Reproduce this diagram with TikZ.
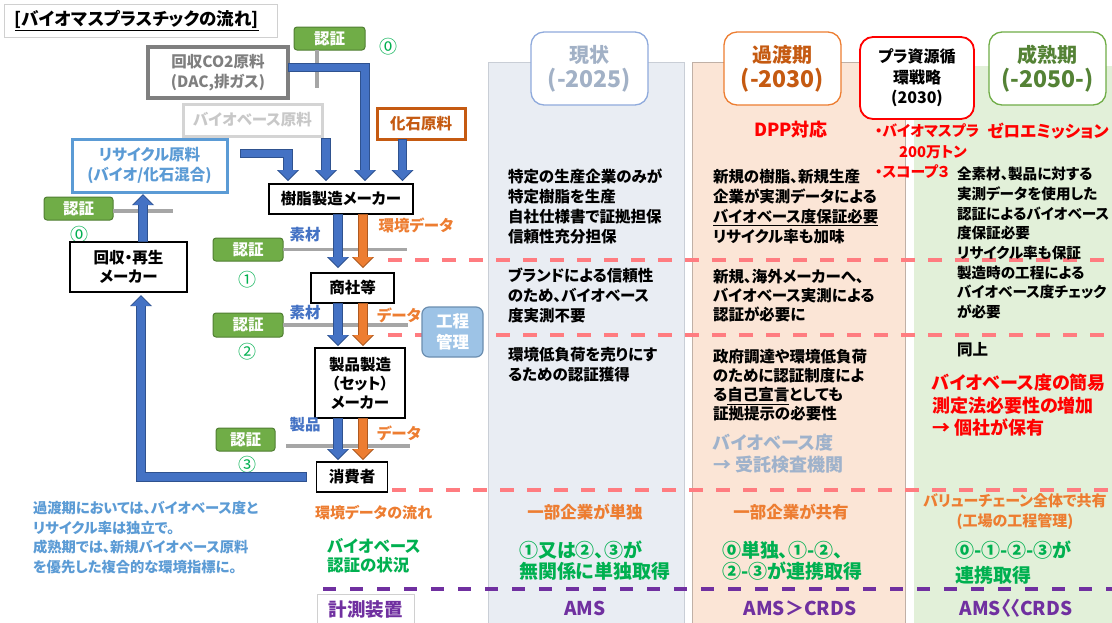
\documentclass[tikz,border=0pt]{standalone}
\usepackage{fontspec}
\setmainfont{Noto Sans CJK JP}[RawFeature=+palt]
\usetikzlibrary{arrows.meta,calc}
\definecolor{arrB}{HTML}{4472C4}
\definecolor{arrBD}{HTML}{2F528F}
\definecolor{arrO}{HTML}{ED7D31}
\definecolor{arrOD}{HTML}{AE5A21}
\definecolor{lineG}{HTML}{A6A6A6}
\definecolor{certG}{HTML}{70AD47}
\definecolor{certGD}{HTML}{507E32}
\definecolor{txtGreen}{HTML}{00B050}
\definecolor{txtOrange}{HTML}{ED7D31}
\definecolor{pinkD}{HTML}{FF7C80}
\definecolor{purp}{HTML}{7030A0}
\definecolor{colA}{HTML}{E9EDF3}
\definecolor{colAline}{HTML}{C9CED6}
\definecolor{colB}{HTML}{FBE5D6}
\definecolor{colBline}{HTML}{C0B0A6}
\definecolor{colC}{HTML}{E2F0D9}
\definecolor{hAline}{HTML}{8FAADC}
\definecolor{hAtxt}{HTML}{A2B1C6}
\definecolor{hBtxt}{HTML}{C55A11}
\definecolor{hDline}{HTML}{70AD47}
\definecolor{hDtxt}{HTML}{548235}
\definecolor{kouteiF}{HTML}{9DC3E6}
\definecolor{kouteiL}{HTML}{6B8EB0}
\definecolor{recycC}{HTML}{5B9BD5}
\definecolor{co2C}{HTML}{7F7F7F}
\definecolor{bioL}{HTML}{D4D4D4}
\definecolor{bioT}{HTML}{C8C8C8}
\definecolor{fossC}{HTML}{C55A11}
\definecolor{steel}{HTML}{9FB2CB}
\definecolor{noteC}{HTML}{5B9BD5}
\definecolor{redC}{HTML}{FF0000}
\definecolor{titleL}{HTML}{D0D0D0}
\newcommand\fz[2]{\fontsize{#1pt}{#2pt}\selectfont}
\begin{document}
\begin{tikzpicture}[x=1pt,y=-1pt,
 every node/.style={inner sep=0pt, outer sep=0pt},
 fbox/.style={draw=black, line width=1.6pt, fill=white, align=center, font=\bfseries\fz{15.5}{19}},
 srcbox/.style={line width=3.2pt, fill=white, align=center, font=\bfseries\fz{15.5}{20}},
 cert/.style={draw=certGD, fill=certG, line width=1pt, rounded corners=3pt, text=white, font=\bfseries\fz{15.5}{18}},
 circnum/.style={text=txtGreen, font=\fz{18}{20}},
 bodyt/.style={anchor=west, align=left, font=\bfseries\fz{15.5}{20}},
 head/.style={line width=1.3pt, rounded corners=13pt, fill=white, align=center},
 glabel/.style={font=\bfseries\fz{15.5}{18}},
 gline/.style={draw=lineG, line width=3.5pt},
 barrow/.style={draw=arrB, line width=7.5pt, line join=miter, shorten >=1.3pt, shorten <=1pt,
   -{Triangle[width=19pt,length=9.5pt,line width=0pt]},
   preaction={draw=arrBD, line width=9.5pt, line join=miter, shorten >=0pt, shorten <=0pt, -{Triangle[width=22pt,length=11pt,line width=0pt]}}},
 oarrow/.style={draw=arrO, line width=7.5pt, line join=miter, shorten >=1.3pt, shorten <=1pt,
   -{Triangle[width=19pt,length=9.5pt,line width=0pt]},
   preaction={draw=arrOD, line width=9.5pt, line join=miter, shorten >=0pt, shorten <=0pt, -{Triangle[width=22pt,length=11pt,line width=0pt]}}},
 pinkdash/.style={draw=pinkD, line width=3.5pt, dash pattern=on 14pt off 13pt},
 purpdash/.style={draw=purp, line width=3.5pt, dash pattern=on 13pt off 14pt},
]
\useasboundingbox (0,0) rectangle (1112,622);
\fill[white] (0,0) rectangle (1112,622);

% ---- period columns
\path[fill=colA, draw=colAline, line width=0.8pt] (488,62) rectangle (684,640);
\path[fill=colB, draw=colBline, line width=0.8pt] (692,62) rectangle (905,640);
\path[fill=colC] (914,66) rectangle (1120,640);

% ---- separators
\draw[pinkdash] (388,260) -- (1112,260);
\draw[pinkdash] (388,335) -- (1112,335);
\draw[pinkdash] (392,490) -- (1112,490);
\draw[purpdash] (323,589) -- (1112,589);

% ---- headers
\node[head, draw=hAline, text=hAtxt, minimum width=117pt, minimum height=73pt, font=\bfseries\fz{20}{25}] (hA) at (589.5,68.5) {現状\\{\fz{23}{25}(-2025)}};
\node[head, draw=arrO, text=hBtxt, minimum width=117pt, minimum height=73pt, font=\bfseries\fz{20}{25}] (hB) at (782.5,68.5) {過渡期\\{\fz{23}{25}(-2030)}};
\node[head, draw=redC, line width=1.8pt, text=black, minimum width=114pt, minimum height=82pt, font=\bfseries\fz{16}{20.5}] (hC) at (917,78) {プラ資源循\\環戦略\\(2030)};
\node[head, draw=hDline, text=hDtxt, minimum width=117pt, minimum height=73pt, font=\bfseries\fz{20}{25}] (hD) at (1047.5,68.5) {成熟期\\{\fz{23}{25}(-2050-)}};

\node[text=redC, font=\bfseries\fz{18}{20}] (dpp) at (791,130) {DPP対応};
\node[anchor=west, align=left, text=redC, font=\bfseries\fz{14.8}{20.5}] (target) at (875,151.5) {・バイオマスプラ\\\hspace*{24pt}200万トン\\・スコープ３};
\node[text=redC, font=\bfseries\fz{16.5}{20}] (zero) at (1048,131) {ゼロエミッション};

% ---- column texts
\node[bodyt] (a1) at (508,206.5) {特定の生産企業のみが\\特定樹脂を生産\\自社仕様書で証拠担保\\信頼性充分担保};
\node[bodyt] (b1) at (713,206.5) {新規の樹脂、新規生産\\企業が実測データによる\\\underline{バイオベース度保証必要}\\リサイクル率も加味};
\node[bodyt, font=\bfseries\fz{14.6}{19.7}] (c1) at (957,243) {全素材、製品に対する\\実測データを使用した\\認証によるバイオベース\\度保証必要\\リサイクル率も保証\\製造時の工程による\\バイオベース度チェック\\が必要};
\node[bodyt] (a2) at (508,295) {ブランドによる信頼性\\のため、バイオベース\\度実測不要};
\node[bodyt, font=\bfseries\fz{15.5}{19}] (b2) at (713,295.5) {新規、海外メーカーへ、\\バイオベース実測による\\認証が必要に};
\node[bodyt] (a3) at (508,364.5) {環境低負荷を売りにす\\るための認証獲得};
\node[bodyt, font=\bfseries\fz{15.5}{19}] (b3) at (713,385.5) {政府調達や環境低負荷\\のために認証制度によ\\る\underline{自己宣言}としても\\証拠提示の必要性};
\node[bodyt, text=steel, font=\bfseries\fz{18}{22}] (b3b) at (713,454) {バイオベース度\\→ 受託検査機関};
\node[bodyt] (c3) at (957,350) {同上};
\node[bodyt, text=redC, font=\bfseries\fz{18}{22.5}] (c3b) at (932,405.5) {バイオベース度の簡易\\測定法必要性の増加\\→ 個社が保有};

% ---- data-flow / certification rows
\node[anchor=west, text=txtOrange, font=\bfseries\fz{15}{18}] (envflow) at (315,513) {環境データの流れ};
\node[text=txtOrange, font=\bfseries\fz{16.5}{18}] (a4) at (585,512) {一部企業が単独};
\node[text=txtOrange, font=\bfseries\fz{16.5}{18}] (b4) at (791,512) {一部企業が共有};
\node[text=txtOrange, align=center, font=\bfseries\fz{15}{20}] (c4) at (1015,512) {バリューチェーン全体で共有\\(工場の工程管理)};
\node[anchor=west, align=left, text=txtGreen, font=\bfseries\fz{16.5}{19}] (certstat) at (327,555.5) {バイオベース\\認証の状況};
\node[anchor=west, align=left, text=txtGreen, font=\bfseries\fz{19}{21}] (a5) at (519,561) {①又は②、③が\\無関係に単独取得};
\node[anchor=west, align=left, text=txtGreen, font=\bfseries\fz{19}{21}] (b5) at (722,561) {⓪単独、①-②、\\②-③が連携取得};
\node[anchor=west, align=left, text=txtGreen, font=\bfseries\fz{19}{25}] (c5) at (955,562.5) {⓪-①-②-③が\\連携取得};

\node[draw=titleL, line width=0.8pt, fill=white, minimum width=97pt, minimum height=30pt, text=purp, font=\bfseries\fz{18.5}{20}] (meas) at (365.5,609) {計測装置};
\node[text=purp, font=\bfseries\fz{19}{20}] (a6) at (585,608) {AMS};
\node[text=purp, font=\bfseries\fz{19}{20}] (b6) at (800,608) {AMS＞CRDS};
\node[text=purp, font=\bfseries\fz{19}{20}] (c6) at (1016,608) {AMS〈〈CRDS};

% ---- title and note
\node[draw=titleL, line width=0.8pt, anchor=north west, minimum height=33pt, text width=251pt, inner xsep=11pt, align=left, font=\bfseries\fz{17.5}{20}] (title) at (4,4) {\underline{[バイオマスプラスチックの流れ]}};
\node[anchor=west, align=left, text=noteC, font=\bfseries\fz{14.3}{19.7}] (note) at (33,537.5) {過渡期においては、バイオベース度と\\リサイクル率は独立で。\\成熟期では、新規バイオベース原料\\を優先した複合的な環境指標に。};

% ---- flow boxes
\node[cert, minimum width=71pt, minimum height=23pt] (cert0) at (329.5,38.5) {認証};
\node[circnum] (n0a) at (388,47) {⓪};
\node[srcbox, draw=co2C, text=co2C, minimum width=140pt, minimum height=51pt] (co2) at (218,72.5) {回収CO2原料\\(DAC,排ガス)};
\node[srcbox, draw=bioL, text=bioT, line width=3pt, minimum width=139pt, minimum height=32pt] (bio) at (252.5,120) {バイオベース原料};
\node[srcbox, draw=fossC, text=fossC, line width=3pt, minimum width=88pt, minimum height=31pt] (fossil) at (421,123.5) {化石原料};
\node[srcbox, draw=recycC, text=recycC, line width=3pt, minimum width=155pt, minimum height=53pt] (recyc) at (149.5,165.5) {リサイクル原料\\(バイオ/化石混合)};
\node[fbox, minimum width=144pt, minimum height=30pt] (resin) at (341,199) {樹脂製造メーカー};
\node[cert, minimum width=69pt, minimum height=23pt] (certL) at (78.5,208.5) {認証};
\node[circnum] (n0b) at (79,235) {⓪};
\node[fbox, minimum width=117pt, minimum height=50pt] (recov) at (128.5,267) {回収・再生\\メーカー};
\node[fbox, minimum width=83pt, minimum height=30pt] (trade) at (352.5,288) {商社等};
\node[fbox, minimum width=90pt, minimum height=70pt] (prod) at (360,383) {製品製造\\（セット）\\メーカー};
\node[fbox, minimum width=71pt, minimum height=30pt] (cons) at (352,477) {消費者};
\node[draw=kouteiL, fill=kouteiF, line width=1.2pt, rounded corners=7pt, text=white, align=center, minimum width=61pt, minimum height=50pt, font=\bfseries\fz{16.5}{21}] (koutei) at (452.5,332) {工程\\管理};
\node[cert, minimum width=70pt, minimum height=23pt] (cert1) at (248,249.5) {認証};
\node[cert, minimum width=70pt, minimum height=24pt] (cert2) at (248,325) {認証};
\node[cert, minimum width=59pt, minimum height=23pt] (cert3) at (245.5,439.5) {認証};
\node[circnum] (n1) at (247,280) {①};
\node[circnum] (n2) at (247,352) {②};
\node[circnum] (n3) at (247,465) {③};
\node[glabel, text=arrB] (m1) at (305,235) {素材};
\node[glabel, text=arrO] (d1) at (416,225) {環境データ};
\node[glabel, text=arrB] (m2) at (305,313) {素材};
\node[glabel, text=arrO] (d2) at (399,315) {データ};
\node[glabel, text=arrB] (m3) at (305,425) {製品};
\node[glabel, text=arrO] (d3) at (399,433) {データ};

% ---- certification lines
\coordinate (g0) at (317,88);
\coordinate (gL) at (173,211);
\coordinate (g1) at (407,249.5);
\coordinate (g2) at (408,325);
\coordinate (g3) at (410,446);
\draw[gline] (cert0.south -| g0) -- (g0);
\draw[gline] ($(certL.east)+(0,2.5)$) -- (gL);
\draw[gline] (cert1.east) -- (g1);
\draw[gline] (cert2.east) -- (g2);
\draw[gline] ($(cert3.east)+(11,6.5)$) -- (g3);

% ---- arrows
\draw[barrow] ($(co2.east)+(0,-5)$) -| ($(resin.north)+(24,-3)$);
\draw[barrow] ($(bio.south east)+(4,2)$) -- ($(resin.north)+(-15,-3)$);
\draw[barrow] ($(fossil.south)+(-18.5,0)$) -- ($(resin.north)+(61.5,-3)$);
\draw[barrow] ($(recyc.east)+(13,-12)$) -| ($(resin.north)+(-53,-3)$);
\draw[barrow] ($(recov.north)+(14.5,0)$) -- ($(recyc.south)+(-6.5,2)$);
\draw[barrow] ($(cons.west)+(-10,0)$) -| ($(recov.south)+(12.5,3)$);
\draw[barrow] ($(resin.south)+(-3,0)$) -- ($(trade.north)+(-14.5,-5)$);
\draw[oarrow] ($(resin.south)+(22,0)$) -- ($(trade.north)+(10.5,-5)$);
\draw[barrow] ($(trade.south)+(-14.5,0)$) -- ($(prod.north)+(-22,-2)$);
\draw[oarrow] ($(trade.south)+(10.5,0)$) -- ($(prod.north)+(3,-2)$);
\draw[barrow] ($(prod.south)+(-22,0)$) -- ($(cons.north)+(-14,-2)$);
\draw[oarrow] ($(prod.south)+(3,0)$) -- ($(cons.north)+(11,-2)$);
\end{tikzpicture}
\end{document}
